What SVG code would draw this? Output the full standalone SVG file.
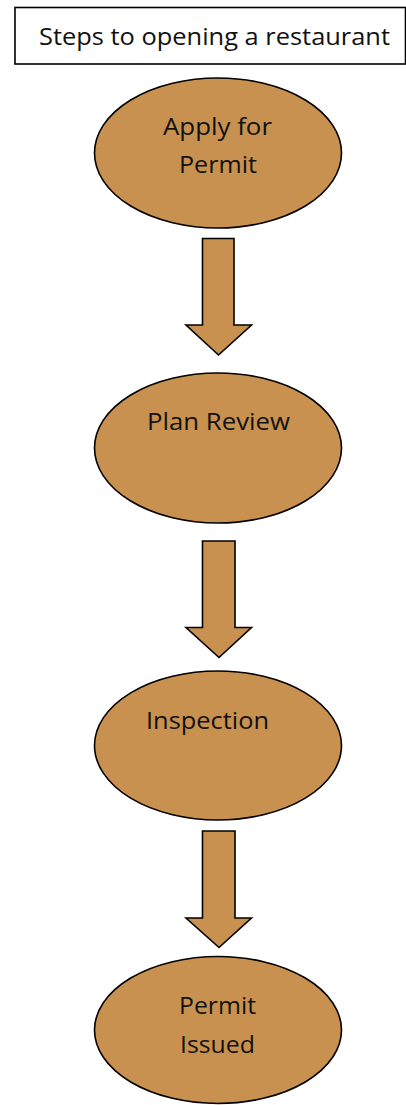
<svg xmlns="http://www.w3.org/2000/svg" width="406" height="1105" viewBox="0 0 406 1105">
<style>
.node{fill:#C9914F;stroke:#000;stroke-width:1.6}
.arrow{fill:#C9914F;stroke:#000;stroke-width:1.6;stroke-linejoin:miter}
.t{font-family:"Open Sans","Liberation Sans",Arial,sans-serif;font-size:24.5px;fill:#111}
</style>
<rect width="406" height="1105" fill="#fff"/>
<g id="title">
<rect x="15" y="7.5" width="390.5" height="56.5" fill="#fff" stroke="#000" stroke-width="1.6"/>
<text class="t" x="39" y="45" textLength="351" lengthAdjust="spacingAndGlyphs">Steps to opening a restaurant</text>
</g>
<g id="connectors">
<path class="arrow" d="M202.5,238.5 H234 V325 H251.5 L218.5,355 L186,325 H202.5 Z"/>
<path class="arrow" d="M202.5,541 H235 V627.5 H251.5 L219,657.5 L186,627.5 H202.5 Z"/>
<path class="arrow" d="M202.5,831 H235 V918 H251.5 L219,947.5 L186,918 H202.5 Z"/>
</g>
<g id="n1">
<ellipse class="node" cx="218" cy="153" rx="123.5" ry="75"/>
<text class="t" x="163" y="135" textLength="109" lengthAdjust="spacingAndGlyphs">Apply for</text>
<text class="t" x="179" y="173" textLength="78" lengthAdjust="spacingAndGlyphs">Permit</text>
</g>
<g id="n2">
<ellipse class="node" cx="218" cy="448" rx="123.5" ry="75"/>
<text class="t" x="147" y="430" textLength="143" lengthAdjust="spacingAndGlyphs">Plan Review</text>
</g>
<g id="n3">
<ellipse class="node" cx="218" cy="745.5" rx="123.5" ry="74.5"/>
<text class="t" x="146" y="729" textLength="123" lengthAdjust="spacingAndGlyphs">Inspection</text>
</g>
<g id="n4">
<ellipse class="node" cx="218" cy="1030" rx="123.5" ry="73.5"/>
<text class="t" x="179" y="1014" textLength="77" lengthAdjust="spacingAndGlyphs">Permit</text>
<text class="t" x="180" y="1052.5" textLength="75" lengthAdjust="spacingAndGlyphs">Issued</text>
</g>
</svg>
